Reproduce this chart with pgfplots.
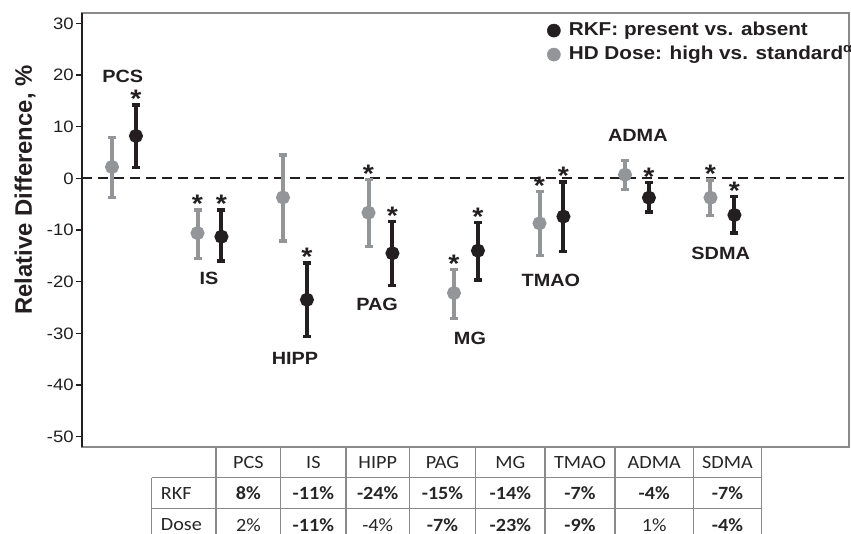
\documentclass[border=0pt]{standalone}
\usepackage{pgfplots}
\usepackage{pgfplotstable}
\pgfplotsset{compat=1.18}
\usepackage{fontspec}
\setmainfont{Liberation Sans}[FakeStretch=1.12]
\newfontfamily\legfont{Liberation Sans}[FakeStretch=1.11]
\newfontfamily\tabfont{Carlito}[FakeStretch=1.08]
\newfontfamily\ylabfont{Liberation Sans}
\definecolor{dk}{HTML}{231F20}
\definecolor{gr}{HTML}{939598}
\definecolor{tl}{HTML}{8A8A8A}

\pgfplotstableread{
x y ep em
-0.14 2.2 5.7 5.9
0.86 -10.6 4.5 4.9
1.86 -3.7 8.2 8.4
2.86 -6.65 6.45 6.55
3.86 -22.2 4.5 4.9
4.86 -8.7 6.2 6.2
5.86 0.7 2.8 2.8
6.86 -3.75 3.45 3.45
}\dose
\pgfplotstableread{
x y ep em
0.14 8.2 6.0 6.1
1.14 -11.3 5.2 4.7
2.14 -23.5 7.1 7.1
3.14 -14.5 6.2 6.2
4.14 -14.0 5.4 5.7
5.14 -7.4 6.7 6.8
6.14 -3.75 2.9 2.75
7.14 -7.1 3.55 3.5
}\rkf

\tikzset{star/.style={anchor=base, inner sep=0pt, yshift=-2.1pt, font=\bfseries\fontsize{19}{20}\selectfont, text=dk},
  cat/.style={inner sep=0pt, font=\bfseries\fontsize{13.3}{15}\selectfont, text=dk}}

\begin{document}
\begin{tikzpicture}
\useasboundingbox (-61.5pt,-65.25pt) rectangle (576.75pt,335.25pt);
\begin{axis}[
  scale only axis, width=575.25pt, height=325.5pt,
  xmin=-0.491, xmax=8.48, ymin=-52, ymax=32,
  xtick=\empty, ytick={-50,-40,...,30},
  tick align=outside, ytick pos=left, major tick length=4.5pt,
  every tick/.style={dk, line width=1pt},
  axis line style={draw=tl, line width=1pt},
  /pgf/number format/assume math mode=true,
  yticklabel style={font=\fontsize{12.4}{14}\selectfont, inner sep=1.5pt, text=dk},
  ylabel={\ylabfont\bfseries Relative Difference, \%},
  ylabel style={font=\fontsize{17.9}{20}\selectfont, at={(axis description cs:-0.0743,0.592)}, anchor=center, text=dk},
  legend style={at={(axis description cs:0.606,0.9816)}, anchor=north west, draw=none, fill=none, inner sep=0pt,
    font=\legfont\bfseries\fontsize{14}{16}\selectfont, text=dk, row sep=4pt, column sep=6.1pt,
    nodes={inner sep=0pt, text height=10.5pt, text depth=3.5pt}},
  legend cell align=left,
  clip=false,
]
\addplot[dk, line width=1.5pt, dash pattern=on 7.5pt off 4.5pt, forget plot] coordinates {(-0.491,0) (8.48,0)};
% error bar caps
\addplot[dk, only marks, mark=-, mark size=3pt, mark options={solid, line width=2.5pt}, forget plot]
  table[x=x, y expr=\thisrow{y}+\thisrow{ep}]{\rkf};
\addplot[dk, only marks, mark=-, mark size=3pt, mark options={solid, line width=2.5pt}, forget plot]
  table[x=x, y expr=\thisrow{y}-\thisrow{em}]{\rkf};
\addplot[gr, only marks, mark=-, mark size=3pt, mark options={solid, line width=2.5pt}, forget plot]
  table[x=x, y expr=\thisrow{y}+\thisrow{ep}]{\dose};
\addplot[gr, only marks, mark=-, mark size=3pt, mark options={solid, line width=2.5pt}, forget plot]
  table[x=x, y expr=\thisrow{y}-\thisrow{em}]{\dose};
% points with error bars
\addplot[dk, only marks, mark=*, mark size=4.25pt, mark options={solid, fill=dk, draw=dk, line width=2pt},
  legend image code/.code={\fill[dk] (0pt,0pt) circle (4.9pt);},
  error bars/.cd, y dir=both, y explicit, error mark=none,
  error bar style={line width=3pt, dk}]
  table[x=x, y=y, y error plus=ep, y error minus=em]{\rkf};
\addlegendentry{RKF: present vs. absent}
\addplot[gr, only marks, mark=*, mark size=4.25pt, mark options={solid, fill=gr, draw=gr, line width=2pt},
  legend image code/.code={\fill[gr] (0pt,0pt) circle (4.9pt);},
  error bars/.cd, y dir=both, y explicit, error mark=none,
  error bar style={line width=3pt, gr}]
  table[x=x, y=y, y error plus=ep, y error minus=em]{\dose};
\addlegendentry{HD Dose: high vs. standard\textsuperscript{α}}
\draw[dk, line width=1.5pt] (rel axis cs:0,0) -- (rel axis cs:0,1);
% significance stars (at top of error bars)
\node[star] at (axis cs:0.14,14.2) {*};
\node[star] at (axis cs:0.86,-6.1) {*};
\node[star] at (axis cs:1.14,-6.1) {*};
\node[star] at (axis cs:2.14,-16.4) {*};
\node[star] at (axis cs:2.86,-0.2) {*};
\node[star] at (axis cs:3.14,-8.3) {*};
\node[star] at (axis cs:3.86,-17.7) {*};
\node[star] at (axis cs:4.14,-8.6) {*};
\node[star] at (axis cs:4.86,-2.5) {*};
\node[star] at (axis cs:5.14,-0.7) {*};
\node[star] at (axis cs:6.14,-0.85) {*};
\node[star] at (axis cs:6.86,-0.3) {*};
\node[star] at (axis cs:7.14,-3.55) {*};
% category labels
\node[cat] at (axis cs:-0.015,19.65) {PCS};
\node[cat] at (axis cs:0.994,-19.35) {IS};
\node[cat] at (axis cs:2.0,-34.8) {HIPP};
\node[cat] at (axis cs:2.96,-24.37) {PAG};
\node[cat] at (axis cs:4.047,-30.95) {MG};
\node[cat] at (axis cs:4.994,-19.67) {TMAO};
\node[cat] at (axis cs:6.01,8.37) {ADMA};
\node[cat] at (axis cs:6.979,-14.5) {SDMA};
\end{axis}
\begin{scope}[x=0.75pt, y=-0.75pt, xshift=-61.5pt, yshift=335.25pt]
  \draw[tl, line width=1pt] (151.7,477.7) -- (761.7,477.7) (151.7,508.3) -- (761.7,508.3);
  \foreach \xx in {216,280.7,346,409.3,475.7,545,615,693.3,761.7}
    {\draw[tl, line width=1pt] (\xx,447) -- (\xx,540);}
  \draw[tl, line width=1pt] (151.7,477.7) -- (151.7,540);
  \tikzset{tc/.style={font=\tabfont\fontsize{14}{16}\selectfont, text=black!85, inner sep=0pt},
           tb/.style={font=\tabfont\bfseries\fontsize{14}{16}\selectfont, text=black!85, inner sep=0pt}}
  \foreach \cx/\t in {248.4/PCS, 313.4/IS, 377.7/HIPP, 442.5/PAG, 510.4/MG, 580/TMAO, 654.2/ADMA, 727.5/SDMA}
    {\node[tc] at (\cx,463) {\t};}
  \node[tc, anchor=west] at (160.7,493.3) {RKF};
  \node[tc, anchor=west] at (160.7,525) {Dose};
  \foreach \cx/\t in {248.4/8\%, 313.4/-11\%, 377.7/-24\%, 442.5/-15\%, 510.4/-14\%, 580/-7\%, 654.2/-4\%, 727.5/-7\%}
    {\node[tb] at (\cx,493.3) {\t};}
  \node[tc] at (248.4,525) {2\%};
  \node[tb] at (313.4,525) {-11\%};
  \node[tc] at (377.7,525) {-4\%};
  \node[tb] at (442.5,525) {-7\%};
  \node[tb] at (510.4,525) {-23\%};
  \node[tb] at (580,525) {-9\%};
  \node[tc] at (654.2,525) {1\%};
  \node[tb] at (727.5,525) {-4\%};
\end{scope}
\end{tikzpicture}
\end{document}
